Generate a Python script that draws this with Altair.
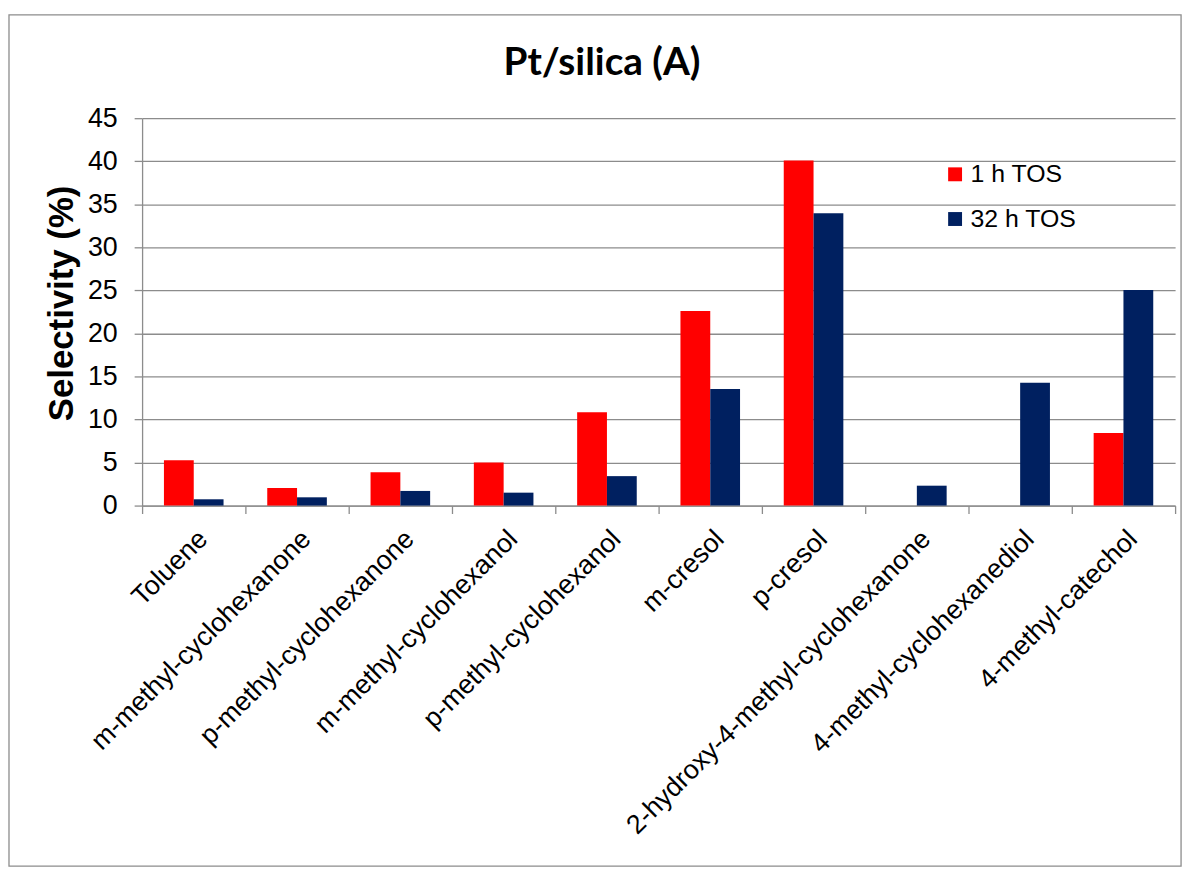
import altair as alt
import pandas as pd

categories = [
    "Toluene",
    "m-methyl-cyclohexanone",
    "p-methyl-cyclohexanone",
    "m-methyl-cyclohexanol",
    "p-methyl-cyclohexanol",
    "m-cresol",
    "p-cresol",
    "2-hydroxy-4-methyl-cyclohexanone",
    "4-methyl-cyclohexanediol",
    "4-methyl-catechol",
]
tos_1h = [5.27, 2.04, 3.88, 5.0, 10.85, 22.6, 40.1, 0.0, 0.0, 8.43]
tos_32h = [0.73, 0.96, 1.7, 1.5, 3.42, 13.55, 33.96, 2.31, 14.28, 25.05]
series = ["1 h TOS", "32 h TOS"]
colors = ["#FF0000", "#002060"]
y_ticks = [0, 5, 10, 15, 20, 25, 30, 35, 40, 45]
title_text = "Pt/silica (A)"
y_title = "Selectivity (%)"

rows = []
for c, a, b in zip(categories, tos_1h, tos_32h):
    rows.append({"compound": c, "series": series[0], "value": a})
    rows.append({"compound": c, "series": series[1], "value": b})
df = pd.DataFrame(rows)

grey = "#8c8c8c"
font = "Liberation Sans"

bars = alt.Chart(df).mark_bar().encode(
    x=alt.X(
        "compound:N",
        sort=categories,
        scale=alt.Scale(paddingInner=0, paddingOuter=0),
        axis=alt.Axis(
            title=None,
            labelAngle=-45,
            labelFontSize=27,
            labelFont=font,
            labelColor="black",
            labelLimit=0,
            labelOverlap=False,
            labelPadding=12,
            tickBand="extent",
            ticks=True,
            tickSize=8,
            tickColor=grey,
            tickWidth=1.3,
            domainColor=grey,
            domainWidth=1.3,
            grid=False,
        ),
    ),
    xOffset=alt.XOffset(
        "series:N", sort=series, scale=alt.Scale(paddingOuter=0.7333, paddingInner=0)
    ),
    y=alt.Y(
        "value:Q",
        scale=alt.Scale(domain=[0, 45], nice=False),
        axis=alt.Axis(
            values=y_ticks,
            title=y_title,
            titleFont=font,
            titleFontSize=35,
            titleFontWeight="bold",
            titleColor="black",
            titleAngle=270,
            titleAlign="center",
            titleBaseline="alphabetic",
            titleX=-70,
            titleY=186,
            labelFontSize=27,
            labelFont=font,
            labelColor="black",
            labelPadding=17,
            tickSize=8,
            tickColor=grey,
            tickWidth=1.3,
            domainColor=grey,
            domainWidth=1.3,
            grid=True,
            gridColor=grey,
            gridWidth=1.3,
        ),
    ),
    color=alt.Color(
        "series:N",
        sort=series,
        scale=alt.Scale(domain=series, range=colors),
        legend=alt.Legend(
            orient="none",
            legendX=806,
            legendY=44,
            title=None,
            symbolType="square",
            symbolSize=196,
            symbolStrokeWidth=0,
            symbolOpacity=1,
            labelFontSize=25,
            labelFont=font,
            labelColor="black",
            labelOffset=3,
            padding=0,
            rowPadding=19,
        ),
    ),
)

frame = alt.Chart(alt.Data(values=[{}])).mark_rect(
    fill="transparent", stroke=grey, strokeWidth=1.3
).encode(
    x=alt.value(-134), x2=alt.value(1046), y=alt.value(-104), y2=alt.value(753)
)

title = alt.Chart(alt.Data(values=[{"t": title_text}])).mark_text(
    font="Lato", fontSize=39, fontWeight="bold", color="black",
    align="center", baseline="alphabetic",
).encode(text="t:N", x=alt.value(463), y=alt.value(-43))

chart = alt.layer(frame, bars, title).properties(
    width=1040,
    height=390,
    padding={"left": 135, "top": 108, "right": 15, "bottom": 371},
    autosize=alt.AutoSizeParams(type="none"),
    background="white",
).configure_view(stroke=None)

chart.save("out.html", embed_options={"renderer": "svg", "actions": False})
